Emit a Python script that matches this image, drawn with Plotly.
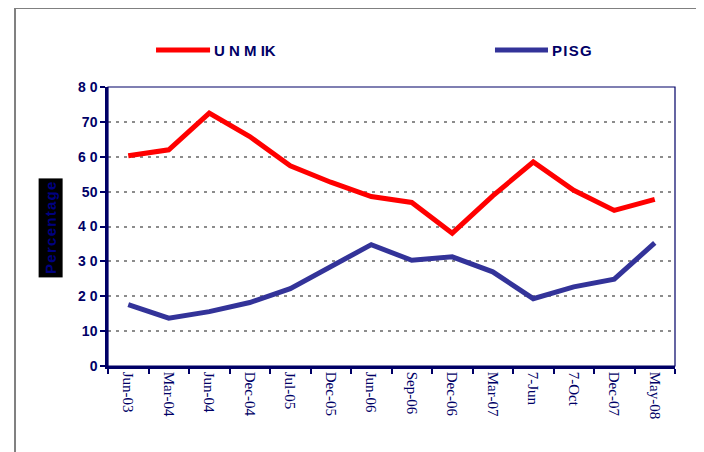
import plotly.graph_objects as go

categories = ["Jun-03", "Mar-04", "Jun-04", "Dec-04", "Jul-05", "Dec-05", "Jun-06",
              "Sep-06", "Dec-06", "Mar-07", "7-Jun", "7-Oct", "Dec-07", "May-08"]
unmik = [60.3, 62.0, 72.5, 65.8, 57.4, 52.7, 48.6, 46.9, 38.1, 48.8, 58.5, 50.4, 44.6, 47.8]
pisg = [17.6, 13.7, 15.6, 18.2, 22.2, 28.3, 34.8, 30.3, 31.3, 27.0, 19.3, 22.7, 24.9, 35.3]
ytick_vals = [0, 10, 20, 30, 40, 50, 60, 70, 80]
ytick_text = ["0", "10", "2 0", "3 0", "4 0", "50", "6 0", "70", "8 0"]
series_names = ["U N M IK", "P\u200aI\u200aS\u200aG"]
series_colors = ["#FF0000", "#333399"]
y_title = "\u200a".join("Percentage")

NAVY = "#000066"

fig = go.Figure()
for name, vals, col in zip(series_names, [unmik, pisg], series_colors):
    fig.add_trace(go.Scatter(x=categories, y=vals, mode="lines", name=name,
                             line=dict(color=col, width=5), showlegend=False))

fig.update_layout(
    width=696, height=444,
    margin=dict(l=100, r=29, t=79, b=86),
    paper_bgcolor="white", plot_bgcolor="white",
    xaxis=dict(type="category", range=[-0.5, 13.5], showgrid=False,
               showline=True, linecolor=NAVY, linewidth=2.5,
               ticks="outside", ticklen=5, tickcolor=NAVY, tickwidth=1.5,
               tickson="boundaries", tickangle=90,
               tickfont=dict(family="Liberation Serif", size=15, color=NAVY)),
    yaxis=dict(range=[0, 80], tickvals=ytick_vals, ticktext=ytick_text,
               showgrid=True, gridcolor="#8c8c8c", gridwidth=2, griddash="3px,5px",
               showline=True, linecolor=NAVY, linewidth=2.5, zeroline=False,
               ticks="outside", ticklen=5, tickcolor=NAVY, tickwidth=1.5,
               tickfont=dict(family="Liberation Sans", size=14, color=NAVY, weight="bold")),
)

# legend drawn as line samples + text
legend_y = 1.1326
legend_pos = [(0.0847, 0.180), (0.6825, 0.776)]
for (x0, x1), name, col in zip(legend_pos, series_names, series_colors):
    fig.add_shape(type="line", xref="paper", yref="paper", x0=x0, x1=x1,
                  y0=legend_y, y1=legend_y, line=dict(color=col, width=5))
    fig.add_annotation(xref="paper", yref="paper", x=x1 + 0.003, y=legend_y,
                       xanchor="left", yanchor="middle", showarrow=False, text=name,
                       font=dict(family="Liberation Sans", size=15, color=NAVY, weight="bold"))

# thin border on top/right of plot area
fig.add_shape(type="rect", xref="paper", yref="paper", x0=0, x1=1, y0=0, y1=1,
              line=dict(color=NAVY, width=1.2), layer="above")
# outer chart border
fig.add_shape(type="rect", xref="paper", yref="paper",
              x0=-0.164, x1=1.043, y0=-0.34, y1=1.283,
              line=dict(color="#808080", width=2))

fig.add_annotation(xref="paper", yref="paper", x=-0.1005, y=0.495,
                   xanchor="center", yanchor="middle",
                   text="<b>" + y_title + "</b>", textangle=-90, showarrow=False,
                   bgcolor="black", font=dict(family="Liberation Sans", size=15, color="#000080"),
                   borderpad=3)

fig.write_html("out.html")
